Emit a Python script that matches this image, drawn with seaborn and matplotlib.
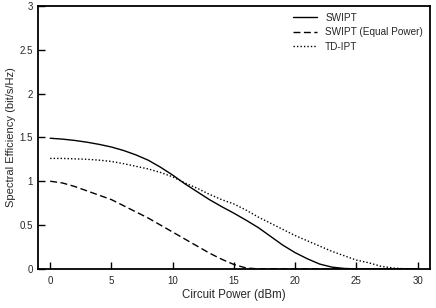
import numpy as np
import pandas as pd
import matplotlib
matplotlib.use("Agg")
import matplotlib.pyplot as plt
import seaborn as sns
from matplotlib.ticker import MultipleLocator

# circuit power (dBm)
power = list(range(0, 31))

swipt = [1.49, 1.48, 1.465, 1.445, 1.42, 1.39, 1.35, 1.30, 1.24, 1.16,
         1.07, 0.97, 0.88, 0.79, 0.71, 0.635, 0.555, 0.47, 0.37, 0.27,
         0.185, 0.115, 0.055, 0.02, 0.005, 0, 0, 0, 0, 0, 0]
swipt_equal = [1.0, 0.98, 0.94, 0.89, 0.84, 0.79, 0.72, 0.65, 0.58, 0.50,
               0.42, 0.34, 0.26, 0.18, 0.11, 0.05, 0.01, 0, 0, 0,
               0, 0, 0, 0, 0, 0, 0, 0, 0, 0, 0]
td_ipt = [1.26, 1.26, 1.255, 1.25, 1.24, 1.225, 1.20, 1.17, 1.14, 1.10,
          1.05, 0.98, 0.92, 0.85, 0.79, 0.74, 0.67, 0.59, 0.52, 0.45,
          0.38, 0.32, 0.26, 0.20, 0.15, 0.10, 0.07, 0.03, 0.01, 0, 0]

series_names = ["SWIPT", "SWIPT (Equal Power)", "TD-IPT"]

df = pd.DataFrame({"power": power, "SWIPT": swipt,
                   "SWIPT (Equal Power)": swipt_equal, "TD-IPT": td_ipt})
long_df = df.melt(id_vars="power", var_name="scheme", value_name="se")

sns.set_style("white")
plt.rcParams["font.family"] = ["Liberation Sans", "DejaVu Sans"]

fig = plt.figure(figsize=(4.36, 3.08), dpi=100)
ax = fig.add_axes([0.087, 0.127, 0.899, 0.854])

styles = {"SWIPT": "-", "SWIPT (Equal Power)": (0, (5, 2.5)), "TD-IPT": (0, (1, 1.5))}
for name in series_names:
    sub = long_df[long_df["scheme"] == name]
    sns.lineplot(data=sub, x="power", y="se", ax=ax, color="black",
                 linewidth=1.0, linestyle=styles[name], label=name)

ax.set_xlim(-1, 31)
ax.set_ylim(0, 3)
ax.xaxis.set_major_locator(MultipleLocator(5))
ax.xaxis.set_minor_locator(MultipleLocator(1))
ax.yaxis.set_minor_locator(MultipleLocator(0.1))
ax.set_yticks([0, 0.5, 1, 1.5, 2, 2.5, 3])
ax.set_yticklabels(["0", "0.5", "1", "1.5", "2", "2.5", "3"])
ax.tick_params(which="major", direction="in", length=5, width=1.0,
               labelsize=7, color="black")
ax.tick_params(axis="x", which="major", pad=5)
ax.tick_params(axis="y", which="major", pad=3.5)
ax.tick_params(which="minor", direction="in", length=2.5, width=0.8, color="black")
ax.tick_params(top=False, right=False, bottom=True, left=True)
for sp in ax.spines.values():
    sp.set_linewidth(1.3)
    sp.set_color("black")

ax.set_xlabel("Circuit Power (dBm)", fontsize=8.3, labelpad=2)
ax.set_ylabel("Spectral Efficiency (bit/s/Hz)", fontsize=8.0, labelpad=3)

leg = ax.legend(loc="upper right", frameon=False, fontsize=7.2,
                handlelength=2.4, handletextpad=0.8, labelspacing=0.45,
                borderaxespad=0.4, borderpad=0.3)

fig.savefig("out.png", dpi=100)
